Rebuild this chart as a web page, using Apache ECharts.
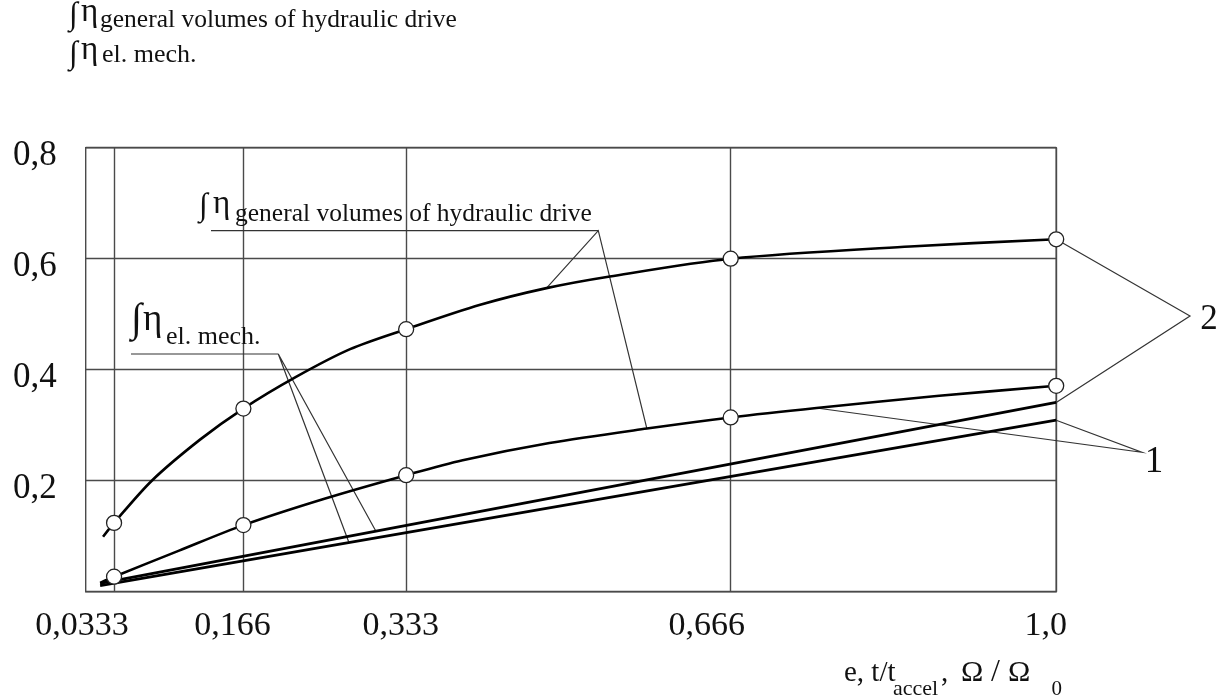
<!DOCTYPE html>
<html><head><meta charset="utf-8">
<script src="https://cdn.jsdelivr.net/npm/echarts@6/dist/echarts.min.js"></script>
<style>html,body{margin:0;padding:0;background:#fff}#c{width:1227px;height:700px}</style>
</head><body><div id="c"></div>
<script>
// ---- data ----
const xTicks = [0.0333, 0.166, 0.333, 0.666, 1.0];
const xTickLabels = ['0,0333', '0,166', '0,333', '0,666', '1,0'];
const yTicks = [0.2, 0.4, 0.6, 0.8];
const yTickLabels = ['0,2', '0,4', '0,6', '0,8'];

const markerUpperY = [0.124, 0.33, 0.473, 0.6, 0.635];
const markerLowerY = [0.027, 0.12, 0.21, 0.314, 0.371];

const curveUpperX = [0.022, 0.0333, 0.072, 0.1215, 0.166, 0.22, 0.2755, 0.333, 0.409, 0.477, 0.542, 0.666, 0.85, 1.0];
const curveUpperY = [0.099, 0.124, 0.2, 0.274, 0.33, 0.387, 0.437, 0.473, 0.517, 0.547, 0.568, 0.6, 0.622, 0.635];

const curveLowerX = [0.019, 0.0333, 0.1, 0.166, 0.25, 0.333, 0.391, 0.48, 0.58, 0.666, 0.754, 0.88, 1.0];
const curveLowerY = [0.016, 0.027, 0.074, 0.12, 0.168, 0.21, 0.237, 0.268, 0.294, 0.314, 0.331, 0.353, 0.371];

const line1UpperX = [0.019, 1.0];
const line1UpperY = [0.015, 0.341];
const line1LowerX = [0.019, 1.0];
const line1LowerY = [0.011, 0.309];

// leader targets (data coordinates on the curves)
const leaderGenTargets = [[0.477, 0.547], [0.58, 0.294]];
const leaderElTargets = [[0.274, 0.090], [0.302, 0.109]];
const leader2Targets = [[1.0, 0.635], [1.0, 0.341]];
const leader1Targets = [[1.0, 0.309], [0.754, 0.331]];

// ---- helpers ----
const zip = (xs, ys) => xs.map((x, i) => [x, ys[i]]);
const FF = '"Liberation Serif", "Times New Roman", serif';
const INK = '#111';
const TICK_FS = 34;
const labelShift = [64, 22, 11, 48, 21];

const chart = echarts.init(document.getElementById('c'), null, {renderer: 'canvas'});

const rich = {};
labelShift.forEach((p, i) => {
  rich['l' + i] = {fontFamily: FF, fontSize: TICK_FS, color: INK, lineHeight: TICK_FS, padding: [0, p, 0, 0]};
});
function nearestIdx(arr, v) {
  let b = 0;
  arr.forEach((a, i) => { if (Math.abs(a - v) < Math.abs(arr[b] - v)) b = i; });
  return b;
}

const lineBase = {type: 'line', showSymbol: false, smooth: 0.3, silent: true,
  lineStyle: {color: '#000', width: 2.6}, z: 3};

const option = {
  animation: false,
  backgroundColor: '#fff',
  grid: {left: 85.7, right: 170.8, top: 147.7, bottom: 108.3, show: true,
    borderColor: '#4a4a4a', borderWidth: 1.4},
  xAxis: {
    type: 'value', min: 0.0042, max: 1.0,
    axisLine: {show: false},
    axisTick: {show: false, customValues: xTicks},
    splitLine: {show: true, lineStyle: {color: '#4a4a4a', width: 1.4}},
    axisLabel: {
      customValues: xTicks, margin: 17, hideOverlap: false,
      showMinLabel: true, showMaxLabel: true,
      fontFamily: FF, fontSize: TICK_FS, color: INK,
      formatter: v => { const i = nearestIdx(xTicks, v); return '{l' + i + '|' + xTickLabels[i] + '}'; },
      rich: rich
    }
  },
  yAxis: {
    type: 'value', min: 0, max: 0.8, interval: 0.2,
    axisLine: {show: false},
    axisTick: {show: false},
    splitLine: {show: true, lineStyle: {color: '#4a4a4a', width: 1.4}},
    axisLabel: {
      customValues: yTicks, margin: 29, verticalAlign: 'top', lineHeight: 16, hideOverlap: false,
      fontFamily: FF, fontSize: 35, color: INK,
      formatter: v => yTickLabels[nearestIdx(yTicks, v)]
    }
  },
  series: [
    Object.assign({}, lineBase, {name: 'upper', data: zip(curveUpperX, curveUpperY)}),
    Object.assign({}, lineBase, {name: 'lower', data: zip(curveLowerX, curveLowerY)}),
    Object.assign({}, lineBase, {name: 'line1U', smooth: false, lineStyle: {color: '#000', width: 2.8}, data: zip(line1UpperX, line1UpperY)}),
    Object.assign({}, lineBase, {name: 'line1L', smooth: false, lineStyle: {color: '#000', width: 2.8}, data: zip(line1LowerX, line1LowerY)}),
    {type: 'scatter', name: 'mU', symbol: 'circle', symbolSize: 15, z: 5, silent: true,
      itemStyle: {color: '#fff', borderColor: '#222', borderWidth: 1.3, opacity: 1},
      data: zip(xTicks, markerUpperY)},
    {type: 'scatter', name: 'mL', symbol: 'circle', symbolSize: 15, z: 5, silent: true,
      itemStyle: {color: '#fff', borderColor: '#222', borderWidth: 1.3, opacity: 1},
      data: zip(xTicks, markerLowerY)}
  ]
};
chart.setOption(option);

// ---- annotations (layout in pixels, curve ends via the axes) ----
const px = p => chart.convertToPixel({gridIndex: 0}, p);
function txt(s, x, baseline, size, align) {
  const a = align || 'left';
  return {type: 'text', x: x, y: baseline - 0.3375 * size, z: 10, silent: true,
    style: {text: s, font: size + 'px ' + FF, fill: INK, align: a, verticalAlign: 'middle',
      textAlign: a, textVerticalAlign: 'middle'}};
}
function mid(s, x, cy, size, align) {
  const a = align || 'left';
  return {type: 'text', x: x, y: cy, z: 10, silent: true,
    style: {text: s, font: size + 'px ' + FF, fill: INK, align: a, verticalAlign: 'middle',
      textAlign: a, textVerticalAlign: 'middle'}};
}
function poly(points) {
  return {type: 'polyline', z: 1, silent: true, shape: {points: points},
    style: {stroke: '#333', lineWidth: 1.2, fill: null}};
}
const genCorner = [598.3, 230.7];
const elCorner = [278.3, 354];
const v2 = [1190, 316];
const v1 = [1141.7, 452.3];

const graphics = [
  // axis title block
  mid('\u222B', 69, 15.3, 32), txt('\u03B7', 81, 23.3, 33), txt('general volumes of hydraulic drive', 100, 29.3, 25.5),
  mid('\u222B', 69, 54.2, 32), txt('\u03B7', 81, 61.7, 33), txt('el. mech.', 102, 63.5, 26),
  // in-plot label: general volumes
  mid('\u222B', 199, 206.7, 32), txt('\u03B7', 213, 215, 33), txt('general volumes of hydraulic drive', 235, 223, 25.5),
  poly([[211, 230.7], genCorner]),
  poly([px(leaderGenTargets[0]), genCorner, px(leaderGenTargets[1])]),
  // in-plot label: el. mech.
  mid('\u222B', 131, 320.7, 40), txt('\u03B7', 143, 333, 37), txt('el. mech.', 166, 346, 26),
  poly([[131, 354], elCorner]),
  poly([px(leaderElTargets[0]), elCorner, px(leaderElTargets[1])]),
  // "2" and "1"
  mid('2', 1209, 320, 35, 'center'),
  poly([px(leader2Targets[0]), v2, px(leader2Targets[1])]),
  mid('1', 1154, 462.5, 37, 'center'),
  poly([px(leader1Targets[0]), v1, px(leader1Targets[1])]),
  // x axis name
  txt('e, t/t', 844, 683.3, 29), txt('accel', 893, 696.7, 22), txt(',', 941, 683.3, 29),
  txt('\u03A9', 961, 683.3, 30), txt('/', 991, 683.3, 32), txt('\u03A9', 1008, 683.3, 30),
  txt('0', 1051.5, 697, 21)
];
chart.setOption({graphic: {elements: graphics}});
</script>
</body></html>
